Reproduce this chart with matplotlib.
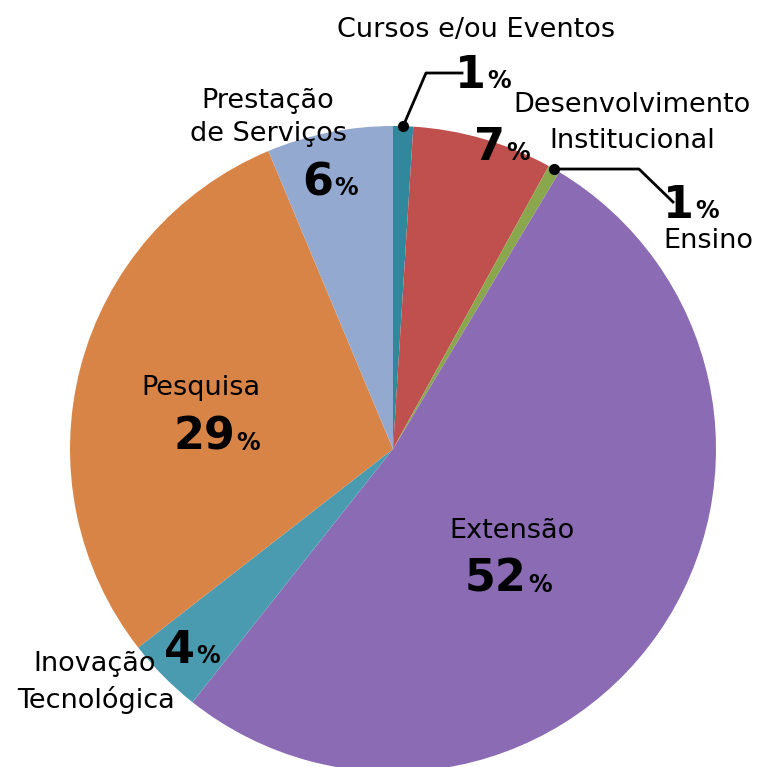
import numpy as np
import matplotlib.pyplot as plt

# ===> data
categorias = ['Cursos e/ou Eventos', 'Desenvolvimento Institucional', 'Ensino',
              'Extensão', 'Inovação Tecnológica', 'Pesquisa', 'Prestação de Serviços']
valores = [1.0, 7.0, 0.6, 52.0, 3.8, 29.2, 6.3]
rotulos = ['1', '7', '1', '52', '4', '29', '6']
cores = ['#31889C', '#C0504D', '#8AA74E', '#8B6BB4', '#4A9BB0', '#D98447', '#94A9D0']

W, H = 761, 767
cx, cy, R = 393, H - 449, 323

fig = plt.figure(figsize=(W / 100, H / 100), dpi=100)
ax = fig.add_axes([0, 0, 1, 1])
ax.pie(valores, colors=cores, startangle=90, counterclock=False,
       center=(cx, cy), radius=R, wedgeprops=dict(linewidth=0))
ax.set_xlim(0, W)
ax.set_ylim(0, H)
ax.set_aspect('equal')
ax.axis('off')

def Y(py):
    return H - py

lab = dict(fontsize=19.5, color='black', ha='center', va='center')

def pct(xs, py, num, size=32):
    # big bold number + small %
    ax.text(xs, Y(py), num, fontsize=size, fontweight='bold', ha='right', va='baseline')
    ax.text(xs + 1, Y(py), '%', fontsize=17, fontweight='bold', ha='left', va='baseline')

def borda(i):
    # point on the edge at the middle of slice i
    ang = 90 - 360 * (sum(valores[:i]) + valores[i] / 2) / sum(valores)
    t = np.radians(ang)
    return cx + R * np.cos(t), cy + R * np.sin(t)

# Cursos e/ou Eventos
ax.text(476, Y(30), categorias[0], **lab)
pct(486, 88, rotulos[0])
x0, y0 = borda(0)
ax.plot([x0, 426, 462], [y0, Y(73), Y(73)], color='black', lw=2)
ax.plot(x0, y0, 'o', color='black', ms=7)

# Desenvolvimento Institucional
ax.text(632, Y(105), 'Desenvolvimento', **lab)
ax.text(632, Y(141), 'Institucional', **lab)
pct(505, 160, rotulos[1])

# Ensino
x2, y2 = borda(2)
ax.plot([x2, 639, 673], [y2, y2, Y(202)], color='black', lw=2)
ax.plot(x2, y2, 'o', color='black', ms=7)
pct(694, 218, rotulos[2])
ax.text(708, Y(241), categorias[2], **lab)

# Extensão
ax.text(512, Y(531), categorias[3], **lab)
pct(527, 592, rotulos[3])

# Inovação Tecnológica
ax.text(95, Y(664), 'Inovação', **lab)
ax.text(96, Y(700), 'Tecnológica', **lab)
pct(195, 663, rotulos[4])

# Pesquisa
ax.text(201, Y(388), categorias[5], **lab)
pct(235, 450, rotulos[5])

# Prestação de Serviços
ax.text(268, Y(101), 'Prestação', **lab)
ax.text(268, Y(134), 'de Serviços', **lab)
pct(333, 195, rotulos[6])

fig.savefig('out.png', dpi=100)
